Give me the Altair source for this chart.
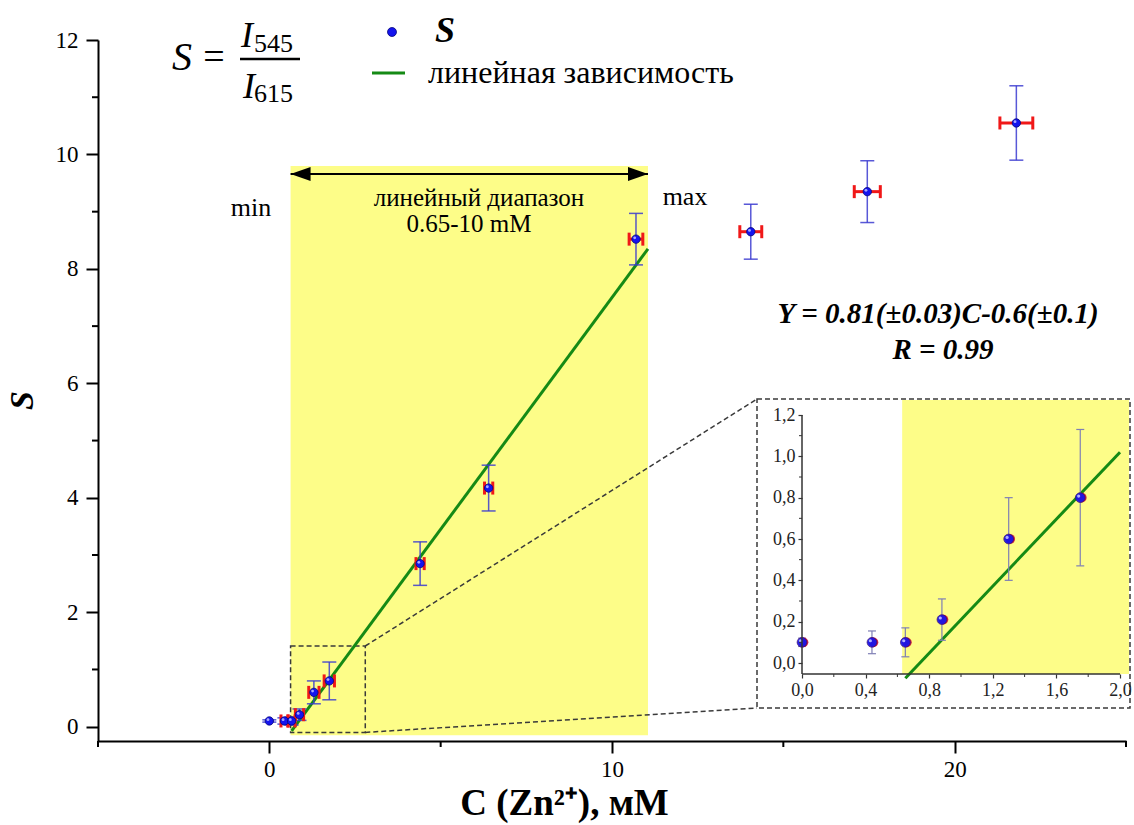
import altair as alt
import pandas as pd

# ------------------------------------------------------------------
# Data
# ------------------------------------------------------------------
conc = [0.00, 0.44, 0.65, 0.88, 1.30, 1.75, 4.40, 6.40, 10.70, 14.05, 17.45, 21.80]
s_val = [0.10, 0.10, 0.10, 0.21, 0.60, 0.80, 2.85, 4.17, 8.52, 8.65, 9.35, 10.55]
s_err = [0.02, 0.055, 0.07, 0.10, 0.20, 0.33, 0.38, 0.40, 0.45, 0.48, 0.54, 0.65]
c_err = [0.00, 0.10, 0.10, 0.12, 0.15, 0.15, 0.12, 0.12, 0.20, 0.32, 0.38, 0.48]
n_inset = 6  # points shown in the inset

fit_slope = 0.81
fit_intercept = -0.6
fit_main_c = [0.65, 11.05]
fit_inset_c = [0.65, 2.0]

linear_range_c = [0.62, 11.05]
zoom_box_c = [0.62, 2.8]
zoom_box_s = [-0.1, 1.41]

x_major = [0, 10, 20]
x_minor = [-5, 5, 15, 25]
y_major = [0, 2, 4, 6, 8, 10, 12]
y_minor = [1, 3, 5, 7, 9, 11]
inset_x_major = [0.0, 0.4, 0.8, 1.2, 1.6, 2.0]
inset_x_minor = [0.2, 0.6, 1.0, 1.4, 1.8]
inset_y_major = [0.0, 0.2, 0.4, 0.6, 0.8, 1.0, 1.2]
inset_y_minor = [0.1, 0.3, 0.5, 0.7, 0.9, 1.1]
inset_band_c0 = 0.63

x_title = "C (Zn²⁺), мМ"
y_title = "S"
txt_min = ["min"]
txt_max = ["max"]
txt_range = ["линейный диапазон", "0.65-10 mM"]
txt_eq = ["Y = 0.81(±0.03)C-0.6(±0.1)", "R = 0.99"]
legend_labels = ["S", "линейная зависимость"]
formula_parts = ["S", "=", "I", "545", "I", "615"]

# ------------------------------------------------------------------
# Layout (pixels)
# ------------------------------------------------------------------
SERIF = "Liberation Serif"
LEFT, TOP, W, H = 98, 40, 1028, 701
XD = [-5, 25]
YD = [-0.25, 12]

YELLOW = "#fdfd88"
GREEN = "#158a15"
BLUE = "#1414ee"
BLUE_ERR = "#3b3bd0"
RED = "#f01818"
DASH = "#3a3a3a"


def main_c(px):
    return XD[0] + (px - LEFT) / W * (XD[1] - XD[0])


def main_s(py):
    return YD[0] + (TOP + H - py) / H * (YD[1] - YD[0])


# inset placement in page pixels
IX0, IX2 = 802, 1120      # inset C = 0 and C = 2
IY0, IY12 = 663, 415      # inset S = 0 and S = 1.2
KX = (IX2 - IX0) / 2.0
KY = (IY0 - IY12) / 1.2
INS_XD = [(LEFT - IX0) / KX, (LEFT + W - IX0) / KX]
INS_YD = [(IY0 - (TOP + H)) / KY, (IY0 - TOP) / KY]
INS_AXIS_Y_PX = 674
INS_AXIS_X_PX = IX0
FRAME = (757, 399, 1130, 708)  # x0, y0, x1, y1


def ins_c(px):
    return (px - IX0) / KX


def ins_s(py):
    return (IY0 - py) / KY


def vx(px):
    return alt.value(px - LEFT)


def vy(py):
    return alt.value(py - TOP)


# ------------------------------------------------------------------
# Scales and axes
# ------------------------------------------------------------------
m_xscale = alt.Scale(domain=XD, nice=False, zero=False)
m_yscale = alt.Scale(domain=YD, nice=False, zero=False)
m_xaxis = alt.Axis(
    orient="bottom", values=x_major, format="d", grid=False,
    title=x_title, titleFont=SERIF, titleFontSize=37, titleFontWeight="bold",
    titleColor="black", titleX=466, titleY=62, titleAlign="center",
    titleBaseline="middle",
    tickSize=12, tickWidth=2, tickColor="black",
    domainWidth=2, domainColor="black",
    labelFont=SERIF, labelFontSize=23, labelColor="black", labelPadding=5,
    labelFlush=False, zindex=1,
)
m_yaxis = alt.Axis(
    orient="left", values=y_major, format="d", grid=False,
    title=y_title, titleFont=SERIF, titleFontSize=34, titleFontWeight="bold",
    titleFontStyle="italic", titleColor="black", titleX=-76, titleY=360,
    titleAngle=270, titleAlign="center", titleBaseline="middle",
    tickSize=12, tickWidth=2, tickColor="black",
    domainWidth=2, domainColor="black",
    labelFont=SERIF, labelFontSize=23, labelColor="black", labelPadding=8,
    labelFlush=False, zindex=1,
)

i_xscale = alt.Scale(domain=INS_XD, nice=False, zero=False)
i_yscale = alt.Scale(domain=INS_YD, nice=False, zero=False)
comma_fmt = "replace(format(datum.value, '.1f'), '.', ',')"
i_xaxis = alt.Axis(
    orient="bottom", offset=-(TOP + H - INS_AXIS_Y_PX), values=inset_x_major,
    domain=False, grid=False, title=None, labelExpr=comma_fmt,
    tickSize=4, tickWidth=1.2, tickColor="#333333",
    labelFont=SERIF, labelFontSize=18, labelColor="#222222", labelPadding=3,
    labelFlush=False, zindex=2,
)
i_yaxis = alt.Axis(
    orient="left", offset=-(INS_AXIS_X_PX - LEFT), values=inset_y_major,
    domain=False, grid=False, title=None, labelExpr=comma_fmt,
    tickSize=4, tickWidth=1.2, tickColor="#333333",
    labelFont=SERIF, labelFontSize=18, labelColor="#222222", labelPadding=3,
    labelFlush=False, zindex=2,
)


def MX(f):
    return alt.X(f, type="quantitative", scale=m_xscale, axis=m_xaxis)


def MY(f):
    return alt.Y(f, type="quantitative", scale=m_yscale, axis=m_yaxis)


def IX(f):
    return alt.X(f, type="quantitative", scale=i_xscale, axis=i_xaxis)


def IY(f):
    return alt.Y(f, type="quantitative", scale=i_yscale, axis=i_yaxis)


# ------------------------------------------------------------------
# Tables
# ------------------------------------------------------------------
df = pd.DataFrame({"C": conc, "S": s_val, "se": s_err, "ce": c_err})
df["S_lo"] = df["S"] - df["se"]
df["S_hi"] = df["S"] + df["se"]
df["C_lo"] = df["C"] - df["ce"]
df["C_hi"] = df["C"] + df["ce"]
dfx = df[df["ce"] > 0]
dfi = df.iloc[:n_inset]

fit_main = pd.DataFrame({"C": fit_main_c,
                         "S": [fit_slope * c + fit_intercept for c in fit_main_c]})
fit_ins = pd.DataFrame({"C": fit_inset_c,
                        "S": [fit_slope * c + fit_intercept for c in fit_inset_c]})

arrow_s = main_s(174)
band_df = pd.DataFrame({"c0": [linear_range_c[0]], "c1": [linear_range_c[1]],
                        "s0": [-0.15], "s1": [main_s(166)]})
zb_df = pd.DataFrame({"c0": [zoom_box_c[0]], "c1": [zoom_box_c[1]],
                      "s0": [zoom_box_s[0]], "s1": [zoom_box_s[1]]})
conn_df = pd.DataFrame({
    "x": [zoom_box_c[1], zoom_box_c[1]],
    "y": [zoom_box_s[1], zoom_box_s[0]],
    "x2": [main_c(FRAME[0]), main_c(FRAME[0])],
    "y2": [main_s(FRAME[1]), main_s(FRAME[3])],
})
arrow_df = pd.DataFrame({"c0": [linear_range_c[0]], "c1": [linear_range_c[1]],
                         "s": [arrow_s]})

# ------------------------------------------------------------------
# Main panel layers
# ------------------------------------------------------------------
band = alt.Chart(band_df).mark_rect(color=YELLOW).encode(
    x=MX("c0"), x2="c1", y=MY("s0"), y2="s1")
zoombox = alt.Chart(zb_df).mark_rect(
    filled=False, stroke=DASH, strokeDash=[5, 3], strokeWidth=1.5).encode(
    x=MX("c0"), x2="c1", y=MY("s0"), y2="s1")
conn = alt.Chart(conn_df).mark_rule(
    stroke=DASH, strokeDash=[5, 3], strokeWidth=1.5).encode(
    x=MX("x"), y=MY("y"), x2="x2", y2="y2")
fit = alt.Chart(fit_main).mark_line(color=GREEN, strokeWidth=3).encode(
    x=MX("C"), y=MY("S"))
yerr = alt.Chart(df).mark_rule(color=BLUE_ERR, strokeWidth=1.5, opacity=0.85).encode(
    x=MX("C"), y=MY("S_lo"), y2="S_hi")
ycap_lo = alt.Chart(df).mark_tick(orient="horizontal", size=14, thickness=1.5,
                                  color=BLUE_ERR, opacity=0.85).encode(
    x=MX("C"), y=MY("S_lo"))
ycap_hi = alt.Chart(df).mark_tick(orient="horizontal", size=14, thickness=1.5,
                                  color=BLUE_ERR, opacity=0.85).encode(
    x=MX("C"), y=MY("S_hi"))
xerr = alt.Chart(dfx).mark_rule(color=RED, strokeWidth=3).encode(
    x=MX("C_lo"), x2="C_hi", y=MY("S"))
xcap_lo = alt.Chart(dfx).mark_tick(orient="vertical", size=13, thickness=3,
                                   color=RED, opacity=1).encode(
    x=MX("C_lo"), y=MY("S"))
xcap_hi = alt.Chart(dfx).mark_tick(orient="vertical", size=13, thickness=3,
                                   color=RED, opacity=1).encode(
    x=MX("C_hi"), y=MY("S"))
pts = alt.Chart(df).mark_circle(size=70, color=BLUE, stroke="#05057a",
                                strokeWidth=0.8, opacity=1).encode(
    x=MX("C"), y=MY("S"))
pts_hl = alt.Chart(df).mark_circle(size=8, color="#b0b0ff", opacity=0.95,
                                   xOffset=-1.3, yOffset=-1.3).encode(
    x=MX("C"), y=MY("S"))

arrow_line = alt.Chart(arrow_df).mark_rule(color="black", strokeWidth=2).encode(
    x=MX("c0"), x2="c1", y=MY("s"))
arrow_l = alt.Chart(arrow_df).mark_point(
    shape="M -1 0 L 1 -0.7 L 1 0.7 Z", filled=True, color="black",
    size=400, opacity=1, xOffset=10).encode(x=MX("c0"), y=MY("s"))
arrow_r = alt.Chart(arrow_df).mark_point(
    shape="M 1 0 L -1 -0.7 L -1 0.7 Z", filled=True, color="black",
    size=400, opacity=1, xOffset=-10).encode(x=MX("c1"), y=MY("s"))

xminor = alt.Chart(pd.DataFrame({"v": x_minor})).mark_rule(
    color="black", strokeWidth=2).encode(
    x=MX("v"), y=alt.value(H), y2=alt.value(H + 6))
yminor = alt.Chart(pd.DataFrame({"v": y_minor})).mark_rule(
    color="black", strokeWidth=2).encode(
    y=MY("v"), x=alt.value(0), x2=alt.value(-6))


def ptext(text, px, py, size, align="center", style="normal", weight="normal",
          font=SERIF):
    return alt.Chart(pd.DataFrame({"t": [text]})).mark_text(
        font=font, fontSize=size, align=align, baseline="middle",
        fontStyle=style, fontWeight=weight, color="black").encode(
        x=vx(px), y=vy(py), text="t:N")


texts = [
    ptext(txt_min[0], 251, 208, 26),
    ptext(txt_range[0], 479, 198, 25),
    ptext(txt_range[1], 469, 224, 25),
    ptext(txt_max[0], 685, 197, 26),
    ptext(txt_eq[0], 938, 314, 29, style="italic", weight="bold"),
    ptext(txt_eq[1], 943, 350, 29, style="italic", weight="bold"),
    # legend
    ptext(legend_labels[0], 435, 31, 36, align="left", style="italic", weight="bold"),
    ptext(legend_labels[1], 428, 73, 32, align="left"),
    # formula S = I545 / I615
    ptext(formula_parts[0], 182, 58, 40, style="italic"),
    ptext(formula_parts[1], 214, 58, 38),
    ptext(formula_parts[2], 247, 36, 36, align="center", style="italic"),
    ptext(formula_parts[3], 254, 44, 26, align="left"),
    ptext(formula_parts[4], 249, 87, 36, align="center", style="italic"),
    ptext(formula_parts[5], 254, 94, 26, align="left"),
]

leg_pt = alt.Chart(pd.DataFrame({"t": [0]})).mark_circle(
    size=80, color=BLUE, stroke="#05057a", strokeWidth=0.8, opacity=1).encode(
    x=vx(392), y=vy(32))
leg_line = alt.Chart(pd.DataFrame({"t": [0]})).mark_rule(
    color=GREEN, strokeWidth=3).encode(x=vx(372), x2=vx(405), y=vy(73))
frac_bar = alt.Chart(pd.DataFrame({"t": [0]})).mark_rule(
    color="black", strokeWidth=2.5).encode(x=vx(240), x2=vx(300), y=vy(59))

main_layer = alt.layer(
    band, zoombox, conn, fit, yerr, ycap_lo, ycap_hi, xerr, xcap_lo, xcap_hi,
    pts, pts_hl, arrow_line, arrow_l, arrow_r, xminor, yminor,
    *texts, leg_pt, leg_line, frac_bar,
)

# ------------------------------------------------------------------
# Inset layers
# ------------------------------------------------------------------
axis_s = ins_s(INS_AXIS_Y_PX)
frame_df = pd.DataFrame({"x0": [ins_c(FRAME[0])], "x1": [ins_c(FRAME[2])],
                         "y0": [ins_s(FRAME[3])], "y1": [ins_s(FRAME[1])]})
iband_df = pd.DataFrame({"x0": [inset_band_c0], "x1": [ins_c(FRAME[2] - 1)],
                         "y0": [axis_s], "y1": [ins_s(FRAME[1] + 1)]})
ixdom_df = pd.DataFrame({"x0": [0.0], "x1": [inset_x_major[-1]], "y": [axis_s]})
iydom_df = pd.DataFrame({"x": [0.0], "y0": [axis_s], "y1": [inset_y_major[-1]]})

frame = alt.Chart(frame_df).mark_rect(
    fill="white", stroke=DASH, strokeDash=[5, 3], strokeWidth=1.5).encode(
    x=IX("x0"), x2="x1", y=IY("y0"), y2="y1")
iband = alt.Chart(iband_df).mark_rect(color=YELLOW).encode(
    x=IX("x0"), x2="x1", y=IY("y0"), y2="y1")
ifit = alt.Chart(fit_ins).mark_line(color=GREEN, strokeWidth=3, clip=False).encode(
    x=IX("C"), y=IY("S"))
iyerr = alt.Chart(dfi).mark_rule(color="#7f7fb5", strokeWidth=1.2).encode(
    x=IX("C"), y=IY("S_lo"), y2="S_hi")
icap_lo = alt.Chart(dfi).mark_tick(orient="horizontal", size=8, thickness=1.2,
                                   color="#7f7fb5", opacity=1).encode(
    x=IX("C"), y=IY("S_lo"))
icap_hi = alt.Chart(dfi).mark_tick(orient="horizontal", size=8, thickness=1.2,
                                   color="#7f7fb5", opacity=1).encode(
    x=IX("C"), y=IY("S_hi"))
ipts_red = alt.Chart(dfi).mark_circle(size=95, color="#cc1030", opacity=0.9,
                                      xOffset=1.5).encode(x=IX("C"), y=IY("S"))
ipts = alt.Chart(dfi).mark_circle(size=95, color=BLUE, stroke="#3a0a70",
                                  strokeWidth=0.8, opacity=0.92).encode(
    x=IX("C"), y=IY("S"))
ipts_hl = alt.Chart(dfi).mark_circle(size=10, color="#b8b8ff", opacity=0.95,
                                     xOffset=-1.6, yOffset=-1.6).encode(
    x=IX("C"), y=IY("S"))
ixdom = alt.Chart(ixdom_df).mark_rule(color="#333333", strokeWidth=1.5).encode(
    x=IX("x0"), x2="x1", y=IY("y"))
iydom = alt.Chart(iydom_df).mark_rule(color="#333333", strokeWidth=1.5).encode(
    x=IX("x"), y=IY("y0"), y2="y1")
ixminor = alt.Chart(pd.DataFrame({"v": inset_x_minor, "a": axis_s})).mark_rule(
    color="#333333", strokeWidth=1, y2Offset=3).encode(
    x=IX("v"), y=IY("a"), y2="a")
iyminor = alt.Chart(pd.DataFrame({"v": inset_y_minor, "a": 0.0})).mark_rule(
    color="#333333", strokeWidth=1, x2Offset=-3).encode(
    y=IY("v"), x=IX("a"), x2="a")

inset_layer = alt.layer(
    frame, iband, ifit, iyerr, icap_lo, icap_hi, ipts_red, ipts, ipts_hl,
    ixdom, iydom, ixminor, iyminor,
)

chart = alt.layer(main_layer, inset_layer).resolve_scale(
    x="independent", y="independent"
).properties(
    width=W, height=H,
    padding={"left": LEFT, "top": TOP, "right": 1134 - LEFT - W,
             "bottom": 825 - TOP - H},
    autosize=alt.AutoSizeParams(type="none"),
    background="white",
).configure_view(stroke=None)

chart.save("out.html", embed_options={"renderer": "svg", "actions": False})
